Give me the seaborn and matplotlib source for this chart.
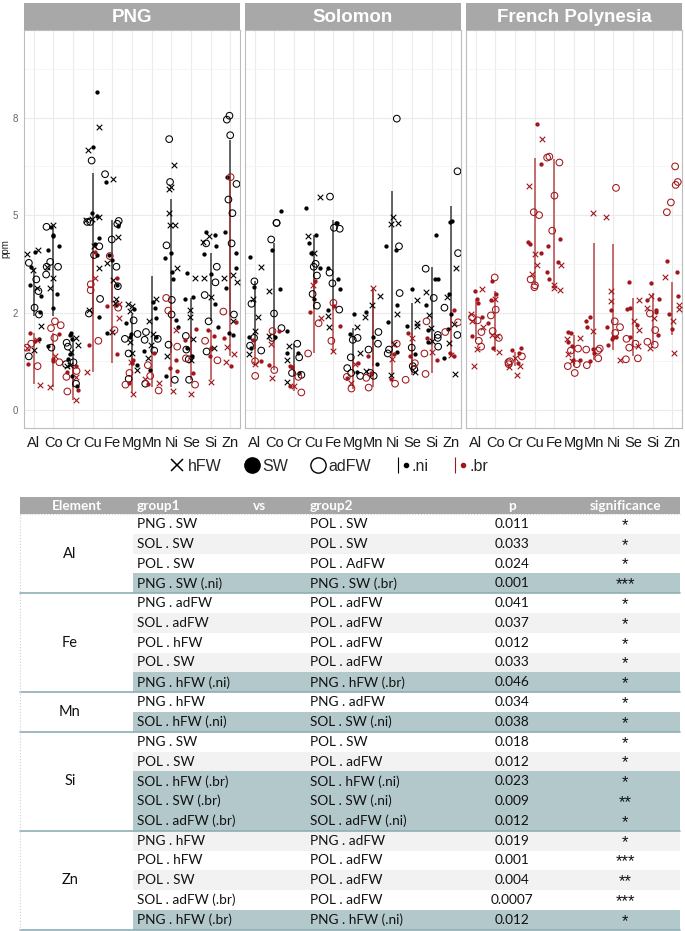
import numpy as np
import pandas as pd
import seaborn as sns
import matplotlib.pyplot as plt
from matplotlib import font_manager
from matplotlib.lines import Line2D
from matplotlib.patches import Rectangle
from matplotlib.legend_handler import HandlerTuple

elements = ["Al", "Co", "Cr", "Cu", "Fe", "Mg", "Mn", "Ni", "Se", "Si", "Zn"]
regions = ["PNG", "Solomon", "French Polynesia"]
y_tick_pos = [0, 1, 2, 3]
y_tick_labels = ["0", "2", "5", "8"]

# ---- PNG ----
png_ni_hfw = {"Al": [1.60, 1.64, 1.44, 1.25, 0.86, 0.62], "Co": [1.90, 1.47, 1.25, 1.35],
              "Cr": [0.74, 0.67, 0.59, 0.45, 0.46], "Cu": [2.90, 2.67, 1.96, 1.98, 1.95, 1.68, 1.46, 1.03],
              "Fe": [2.37, 1.78, 1.51, 1.33, 1.14, 1.10, 0.80], "Mg": [1.09, 1.07, 1.02, 0.58, 0.70, 0.41],
              "Mn": [1.14, 0.91, 0.78, 0.53, 0.67], "Ni": [2.02, 2.51, 2.27, 2.29, 1.90, 1.90, 1.46, 0.55],
              "Se": [1.35, 1.03, 0.95, 0.73, 0.51], "Si": [1.79, 1.72, 1.35, 0.64, 1.16],
              "Zn": [1.39, 1.31, 0.91, 1.35]}
png_ni_sw = {"Al": [1.47, 1.62, 1.28, 1.17, 1.01, 0.73], "Co": [1.79, 1.68, 1.64, 1.88, 1.80, 1.19, 1.05, 0.66],
             "Cr": [0.79, 0.77, 0.57, 0.52, 0.73, 0.35, 0.25], "Cu": [3.26, 2.70, 2.02, 1.99, 1.76, 1.70, 1.59, 0.95],
             "Fe": [2.34, 1.89, 1.59, 1.54, 1.28, 1.08, 0.79], "Mg": [1.04, 0.89, 0.75, 0.46, 0.78],
             "Mn": [1.11, 1.05, 0.94, 0.75, 0.61, 0.41], "Ni": [1.61, 1.56, 1.42, 1.34, 0.92, 0.85, 0.35],
             "Se": [1.41, 1.16, 1.14, 0.64, 0.55], "Si": [1.83, 1.80, 1.68, 1.60, 1.40, 1.09, 0.85],
             "Zn": [2.39, 1.83, 1.61, 1.46, 1.25, 0.79, 0.77]}
png_ni_adfw = {"Al": [0.98, 1.51, 1.34, 1.22, 1.05, 0.55], "Co": [1.88, 1.52, 1.47, 1.47, 1.39, 0.64],
               "Cr": [0.69, 0.65, 0.47, 0.49, 0.27], "Cu": [2.56, 1.93, 1.93, 1.59, 1.68, 1.14, 0.99],
               "Fe": [2.42, 1.91, 1.94, 1.75, 1.47, 1.27], "Mg": [0.92, 0.78, 0.73, 0.58, 0.32],
               "Mn": [0.80, 0.73, 0.72, 0.61, 0.27], "Ni": [2.78, 2.34, 1.69, 0.98, 1.13, 0.67, 0.31],
               "Se": [0.76, 0.62, 0.52, 0.31], "Si": [1.71, 1.47, 1.31, 1.18, 0.91, 0.60],
               "Zn": [3.02, 2.98, 2.82, 2.32, 2.16, 2.02, 1.71, 0.98]}
png_br_hfw = {"Al": [0.64, 0.72, 0.26], "Co": [0.55, 0.24], "Cr": [0.34, 0.10], "Cu": [1.35, 0.39],
              "Fe": [0.94, 1.09], "Mg": [0.49, 0.16], "Mn": [0.32, 0.28], "Ni": [0.82, 0.19],
              "Se": [0.16], "Si": [0.29], "Zn": [0.57, 0.49, 0.65]}
png_br_sw = {"Al": [0.79, 0.71, 0.47], "Co": [0.78, 0.52, 0.50], "Cr": [0.39, 0.45, 0.21], "Cu": [1.62, 0.67],
             "Fe": [1.35, 1.07, 0.57], "Mg": [0.51, 0.28, 0.48], "Mn": [0.58, 0.27], "Ni": [0.51, 0.43, 0.40],
             "Se": [0.83, 0.72, 0.38], "Si": [0.82, 0.76, 0.64, 0.55], "Zn": [0.90, 0.74, 0.45]}
png_br_adfw = {"Al": [0.68, 0.64, 0.45], "Co": [0.74, 0.49, 0.91, 0.84, 0.87], "Cr": [0.19, 0.34, 0.40],
               "Cu": [1.29, 1.23, 0.71], "Fe": [1.58, 1.05, 0.82], "Mg": [0.38, 0.26], "Mn": [0.46, 0.20, 0.35],
               "Ni": [1.15, 1.02, 0.65], "Se": [0.53, 0.26], "Si": [0.71, 0.51], "Zn": [2.39, 1.01]}
png_ni_range = {"Al": (0.96, 1.46), "Co": (0.96, 1.87), "Cr": (0.24, 0.77), "Cu": (0.98, 2.43),
                "Fe": (1.10, 1.95), "Mg": (0.51, 0.99), "Mn": (0.58, 1.37), "Ni": (0.58, 2.17),
                "Se": (0.51, 1.15), "Si": (0.91, 1.61), "Zn": (0.96, 2.77)}
png_br_range = {"Al": (0.27, 0.79), "Co": (0.24, 0.79), "Cr": (0.10, 0.48), "Cu": (0.39, 1.63),
                "Fe": (0.48, 1.35), "Mg": (0.17, 0.53), "Mn": (0.24, 0.58), "Ni": (0.24, 1.13),
                "Se": (0.31, 0.82), "Si": (0.31, 0.82), "Zn": (0.55, 2.40)}

# ---- Solomon ----
sol_ni_hfw = {"Al": [1.47, 1.14, 0.95, 0.81, 0.57], "Co": [1.22, 0.76], "Cr": [0.66, 0.51, 0.29],
              "Cu": [2.19, 1.79, 1.61], "Fe": [0.96, 0.85], "Mg": [0.85, 0.58], "Mn": [1.08, 0.95, 1.17, 0.40],
              "Ni": [1.91, 1.98, 1.92, 0.98, 0.68, 0.36], "Se": [1.13, 0.89, 0.86, 0.39],
              "Si": [1.21, 0.97, 0.84, 0.71], "Zn": [1.46, 1.16, 0.88, 0.69, 0.37]}
sol_ni_sw = {"Al": [1.57, 1.26, 0.75, 0.64], "Co": [2.04, 1.64, 1.24, 0.75], "Cr": [0.81, 0.58, 0.58, 0.38],
             "Cu": [2.07, 1.80, 1.71, 1.61, 1.46, 1.14], "Fe": [1.92, 1.92, 1.46, 1.34, 1.24, 1.03],
             "Mg": [0.98, 0.78, 0.39], "Mn": [1.01, 0.75, 0.47], "Ni": [1.64, 1.68, 1.08, 0.90, 0.60],
             "Se": [1.24, 0.86, 0.57], "Si": [1.80, 1.34, 1.34, 0.82, 0.70, 1.08],
             "Zn": [1.94, 1.93, 1.19, 0.99, 0.83, 0.53]}
sol_ni_adfw = {"Al": [1.32, 1.09, 0.74, 0.61, 0.66], "Co": [1.92, 1.92, 1.75, 0.99, 0.84, 0.74],
               "Cr": [0.68, 0.54, 0.38, 0.36], "Cu": [1.50, 1.47, 1.38, 1.19, 1.07],
               "Fe": [2.19, 1.86, 1.87, 1.41, 1.30, 1.03], "Mg": [0.74, 0.72, 0.54, 0.38, 0.35, 0.43],
               "Mn": [0.80, 0.68, 0.62, 0.38, 0.35], "Ni": [2.99, 1.68, 1.20, 0.62, 0.58],
               "Se": [0.64, 0.45, 0.42], "Si": [1.45, 1.15, 0.77, 0.74, 0.65], "Zn": [2.45, 1.61, 1.05, 0.77]}
sol_br_hfw = {"Al": [0.47], "Co": [0.68, 0.33], "Cr": [0.25], "Cu": [1.28, 0.94], "Fe": [0.61],
              "Mg": [0.47, 0.28], "Mn": [1.25], "Ni": [0.52], "Se": [0.74], "Si": [0.59], "Zn": [0.56]}
sol_br_sw = {"Al": [0.72, 0.50], "Co": [0.81, 0.46], "Cr": [0.45, 0.44, 0.25], "Cu": [1.32, 1.01],
             "Fe": [1.07, 0.86], "Mg": [0.48, 0.33], "Mn": [0.55, 0.38], "Ni": [0.57, 0.32],
             "Se": [0.79, 0.55], "Si": [0.74, 0.51], "Zn": [1.03, 0.58, 0.55]}
sol_br_adfw = {"Al": [0.50, 0.35], "Co": [0.81, 0.41], "Cr": [0.18, 0.34], "Cu": [0.89, 0.58],
               "Fe": [1.10, 0.71], "Mg": [0.34, 0.22], "Mn": [0.33, 0.23], "Ni": [0.68, 0.27],
               "Se": [0.48, 0.31], "Si": [0.91, 0.58, 0.37], "Zn": [0.80, 0.90]}
sol_ni_range = {"Al": (0.63, 1.32), "Co": (0.75, 1.71), "Cr": (0.36, 0.68), "Cu": (1.04, 1.80),
                "Fe": (1.03, 1.95), "Mg": (0.38, 0.84), "Mn": (0.45, 1.23), "Ni": (0.68, 2.25),
                "Se": (0.41, 1.10), "Si": (0.67, 1.47), "Zn": (0.82, 2.09)}
sol_br_range = {"Al": (0.48, 0.72), "Co": (0.41, 0.80), "Cr": (0.19, 0.46), "Cu": (0.58, 1.34),
                "Fe": (0.60, 1.11), "Mg": (0.22, 0.50), "Mn": (0.24, 1.25), "Ni": (0.34, 0.72),
                "Se": (0.36, 0.79), "Si": (0.38, 0.75), "Zn": (0.55, 1.04)}

# ---- French Polynesia (only .br) ----
pol_br_hfw = {"Al": [1.24, 0.99, 0.91, 0.85, 0.63, 0.45], "Co": [1.14, 0.77, 0.76, 0.59],
              "Cr": [0.53, 0.45, 0.44, 0.36], "Cu": [2.78, 2.30, 1.60, 1.49, 1.40], "Fe": [1.49, 1.28, 1.25, 1.23],
              "Mg": [0.73, 0.74, 0.57, 0.50], "Mn": [2.02, 0.81], "Ni": [1.98, 1.12, 1.22, 0.51],
              "Se": [1.13, 0.91, 0.82, 0.66], "Si": [1.17, 1.05, 0.94, 0.64], "Zn": [1.36, 1.08, 1.04, 0.91, 0.58]}
pol_br_sw = {"Al": [1.10, 0.95, 1.22, 1.14, 0.76], "Co": [1.32, 1.19, 1.13, 0.89, 0.64],
             "Cr": [0.58, 0.62, 0.64, 0.48], "Cu": [2.94, 2.52, 1.72, 1.70, 1.61], "Fe": [1.75, 1.68, 1.52, 1.42, 1.34],
             "Mg": [0.80, 0.79, 0.66, 0.51, 0.51, 0.70], "Mn": [0.95, 0.91, 0.85, 0.63, 0.58, 0.50],
             "Ni": [1.03, 0.85, 0.75, 0.73, 0.67, 0.75], "Se": [1.31, 1.05, 1.04, 0.87, 0.75],
             "Si": [1.14, 1.30, 1.13, 1.03, 1.01, 0.77], "Zn": [1.53, 1.42, 1.17, 0.99, 0.83]}
pol_br_adfw = {"Al": [0.92, 0.95, 0.80, 0.71, 0.65], "Co": [1.36, 1.03, 0.97, 0.81, 0.74],
               "Cr": [0.55, 0.50, 0.49, 0.47], "Cu": [2.03, 2.00, 1.34, 1.26, 1.28], "Fe": [2.54, 2.60, 2.59, 2.20, 1.84],
               "Mg": [0.61, 0.63, 0.47, 0.45, 0.38], "Mn": [0.61, 0.63, 0.62, 0.53, 0.46],
               "Ni": [2.28, 0.91, 0.85, 0.79], "Se": [0.73, 0.68, 0.64, 0.53, 0.52],
               "Si": [0.99, 0.82, 0.70, 0.67], "Zn": [2.50, 2.31, 2.34, 2.13, 2.03]}
pol_br_range = {"Al": (0.72, 1.13), "Co": (0.59, 1.22), "Cr": (0.45, 0.59), "Cu": (1.28, 2.59),
                "Fe": (1.25, 2.58), "Mg": (0.45, 0.77), "Mn": (0.51, 1.71), "Ni": (0.62, 1.70),
                "Se": (0.55, 1.15), "Si": (0.67, 1.20), "Zn": (0.77, 1.31)}

# table
tbl_element = ["Al"] * 4 + ["Fe"] * 5 + ["Mn"] * 2 + ["Si"] * 5 + ["Zn"] * 5
tbl_group1 = ["PNG . SW", "SOL . SW", "POL . SW", "PNG . SW (.ni)",
              "PNG . adFW", "SOL . adFW", "POL . hFW", "POL . SW", "PNG . hFW (.ni)",
              "PNG . hFW", "SOL . hFW (.ni)",
              "PNG . SW", "POL . SW", "SOL . hFW (.br)", "SOL . SW (.br)", "SOL . adFW (.br)",
              "PNG . hFW", "POL . hFW", "POL . SW", "SOL . adFW (.br)", "PNG . hFW (.br)"]
tbl_group2 = ["POL . SW", "POL . SW", "POL . AdFW", "PNG . SW (.br)",
              "POL . adFW", "POL . adFW", "POL . adFW", "POL . adFW", "PNG . hFW (.br)",
              "PNG . adFW", "SOL . SW (.ni)",
              "POL . SW", "POL . adFW", "SOL . hFW (.ni)", "SOL . SW (.ni)", "SOL . adFW (.ni)",
              "PNG . adFW", "POL . adFW", "POL . adFW", "POL . adFW", "PNG . hFW (.ni)"]
tbl_p = ["0.011", "0.033", "0.024", "0.001", "0.041", "0.037", "0.012", "0.033", "0.046",
         "0.034", "0.038", "0.018", "0.012", "0.023", "0.009", "0.012",
         "0.019", "0.001", "0.004", "0.0007", "0.012"]
tbl_sig = ["*", "*", "*", "***", "*", "*", "*", "*", "*", "*", "*", "*", "*", "*", "**", "*",
           "*", "***", "**", "***", "*"]
tbl_shade = list("wgwt" + "wgwgt" + "wt" + "wgttt" + "gwgwt")

# ---------------------------------------------------------------
point_sets = {
    ("PNG", ".ni", "hFW"): png_ni_hfw, ("PNG", ".ni", "SW"): png_ni_sw, ("PNG", ".ni", "adFW"): png_ni_adfw,
    ("PNG", ".br", "hFW"): png_br_hfw, ("PNG", ".br", "SW"): png_br_sw, ("PNG", ".br", "adFW"): png_br_adfw,
    ("Solomon", ".ni", "hFW"): sol_ni_hfw, ("Solomon", ".ni", "SW"): sol_ni_sw, ("Solomon", ".ni", "adFW"): sol_ni_adfw,
    ("Solomon", ".br", "hFW"): sol_br_hfw, ("Solomon", ".br", "SW"): sol_br_sw, ("Solomon", ".br", "adFW"): sol_br_adfw,
    ("French Polynesia", ".br", "hFW"): pol_br_hfw, ("French Polynesia", ".br", "SW"): pol_br_sw,
    ("French Polynesia", ".br", "adFW"): pol_br_adfw,
}
range_sets = {
    ("PNG", ".ni"): png_ni_range, ("PNG", ".br"): png_br_range,
    ("Solomon", ".ni"): sol_ni_range, ("Solomon", ".br"): sol_br_range,
    ("French Polynesia", ".br"): pol_br_range,
}

rows = []
for (reg, org, typ), d in point_sets.items():
    for el, vals in d.items():
        for v in vals:
            rows.append((reg, el, org, typ, v))
df = pd.DataFrame(rows, columns=["region", "element", "origin", "type", "ppm"])

sns.set_style("whitegrid")
names = {f.name for f in font_manager.fontManager.ttflist}
plt.rcParams["font.family"] = ["Liberation Sans", "DejaVu Sans"]

colors = {".ni": "#000000", ".br": "#A0161A"}
line_colors = {".ni": "#2b2b2b", ".br": "#B23A3A"}
marker_kw = {"hFW": dict(marker="x", size=4.0, linewidth=0.8),
             "SW": dict(marker="o", size=3.1, linewidth=0),
             "adFW": dict(marker="o", size=4.8, linewidth=0.75)}

W, H = 685, 931
fig = plt.figure(figsize=(W / 100, H / 100), dpi=100)
panel_x = [24, 245, 466]
panel_w = 216
top_px, bot_px = 30, 428
np.random.seed(7)

for i, reg in enumerate(regions):
    ax = fig.add_axes([panel_x[i] / W, 1 - bot_px / H, panel_w / W, (bot_px - top_px) / H])
    ax.set_facecolor("white")
    for (r, org), rng in range_sets.items():
        if r != reg:
            continue
        xs = [elements.index(e) for e in rng]
        ax.vlines(xs, [v[0] for v in rng.values()], [v[1] for v in rng.values()],
                  color=line_colors[org], lw=1.2, alpha=0.85, zorder=2)
    for org in [".ni", ".br"]:
        for typ in ["hFW", "SW", "adFW"]:
            sub = df[(df.region == reg) & (df.origin == org) & (df.type == typ)]
            if sub.empty:
                continue
            n0 = len(ax.collections)
            sns.stripplot(data=sub, x="element", y="ppm", order=elements, ax=ax, jitter=0.38,
                          color=colors[org], edgecolor=colors[org], zorder=3, **marker_kw[typ])
            if typ == "adFW":
                for c in ax.collections[n0:]:
                    c.set_facecolor("none")
                    c.set_edgecolor(colors[org])
    ax.set_xlim(-0.5, 10.5)
    ax.set_ylim(-0.185, 3.9)
    ax.set_yticks(y_tick_pos)
    ax.set_yticks([0.5, 1.5, 2.5, 3.5], minor=True)
    ax.grid(True, which="major", color="#EBEBEB", lw=0.8)
    ax.grid(True, which="minor", axis="y", color="#F4F4F4", lw=0.6)
    ax.set_axisbelow(True)
    for s in ax.spines.values():
        s.set_color("#BDBDBD")
        s.set_linewidth(0.8)
    ax.set_xlabel("")
    ax.set_xticks(range(len(elements)))
    ax.set_xticklabels(elements, color="#1a1a1a", fontsize=10.5)
    ax.tick_params(axis="x", length=2.5, color="#BDBDBD", pad=3)
    if i == 0:
        ax.set_yticklabels(y_tick_labels, fontsize=7, color="#666666")
        ax.tick_params(axis="y", length=2.5, color="#BDBDBD", pad=2)
        ax.set_ylabel("ppm", fontsize=7, labelpad=3)
        ax.yaxis.set_label_coords(-0.065, 0.45)
    else:
        ax.set_ylabel("")
        ax.tick_params(axis="y", left=False, labelleft=False)

    sax = fig.add_axes([panel_x[i] / W, 1 - top_px / H, panel_w / W, 27 / H])
    sax.set_facecolor("#A8A8A8")
    sax.set_xticks([])
    sax.set_yticks([])
    for s in sax.spines.values():
        s.set_visible(False)
    sax.text(0.5, 0.45, reg, transform=sax.transAxes, ha="center", va="center",
             color="white", fontweight="bold", fontsize=13.5)

# legend
h_hfw = Line2D([], [], ls="", marker="x", color="black", markersize=8, mew=1.1)
h_sw = Line2D([], [], ls="", marker="o", color="black", markersize=11)
h_ad = Line2D([], [], ls="", marker="o", mfc="none", mec="black", markersize=11, mew=1.0)
h_ni = (Line2D([], [], ls="", marker="|", color="black", markersize=11, mew=0.8),
        Line2D([], [], ls="", marker="o", color="black", markersize=3))
h_br = (Line2D([], [], ls="", marker="|", color=colors[".br"], markersize=11, mew=0.8),
        Line2D([], [], ls="", marker="o", color=colors[".br"], markersize=3))
fig.legend([h_hfw, h_sw, h_ad, h_ni, h_br], ["hFW", "SW", "adFW", ".ni", ".br"],
           loc="center", bbox_to_anchor=(0.48, 1 - 466 / H), ncol=5, frameon=False,
           prop={"size": 11.5}, handletextpad=0.15, columnspacing=1.4, handlelength=1.0,
           handler_map={tuple: HandlerTuple(ndivide=None, pad=0)})

# table
tax = fig.add_axes([0, 0, 1, 445 / H])
tax.set_xlim(0, W)
tax.set_ylim(H, H - 445)
tax.axis("off")
tfam = "Lato" if "Lato" in names else "Liberation Sans"
x0, x1 = 20, 680
head_top, head_bot = 497, 514
row_h = 19.8
fs = 9.8
shade_col = {"w": "white", "g": "#F2F2F2", "t": "#B3C8CB"}
tax.add_patch(Rectangle((x0, head_top), x1 - x0, head_bot - head_top, color="#A6A6A6", lw=0))
for label, xx, ha in [("Element", 77, "center"), ("group1", 137, "left"), ("vs", 260, "center"),
                      ("group2", 310, "left"), ("p", 512, "center"), ("significance", 625, "center")]:
    tax.text(xx, (head_top + head_bot) / 2, label, ha=ha, va="center", color="white",
             fontweight="bold", fontsize=fs, family=tfam)
tax.plot([x0, x1], [head_bot, head_bot], color="#D0D0D0", lw=0.8, ls=":")
for k in range(len(tbl_group1)):
    yt = head_bot + k * row_h
    yc = yt + row_h / 2
    tax.add_patch(Rectangle((133, yt), x1 - 133, row_h, color=shade_col[tbl_shade[k]], lw=0))
    tax.text(137, yc, tbl_group1[k], ha="left", va="center", fontsize=fs, family=tfam, color="#111111")
    tax.text(310, yc, tbl_group2[k], ha="left", va="center", fontsize=fs, family=tfam, color="#111111")
    tax.text(512, yc, tbl_p[k], ha="center", va="center", fontsize=fs, family=tfam, color="#111111")
    tax.text(625, yc + 1.5, tbl_sig[k], ha="center", va="center", fontsize=12, color="#111111")
# element cells and separators
start = 0
for el in dict.fromkeys(tbl_element):
    n = tbl_element.count(el)
    yt = head_bot + start * row_h
    tax.text(70, yt + n * row_h / 2, el, ha="center", va="center", fontsize=10.5, family=tfam, color="#111111")
    yb = yt + n * row_h
    tax.plot([x0, x1], [yb, yb], color="#8FAEB4", lw=1.2)
    start += n
tax.plot([x0, x0], [head_bot, head_bot + len(tbl_group1) * row_h], color="#CFCFCF", lw=0.8, ls=":")

fig.savefig("out.png", dpi=100)
